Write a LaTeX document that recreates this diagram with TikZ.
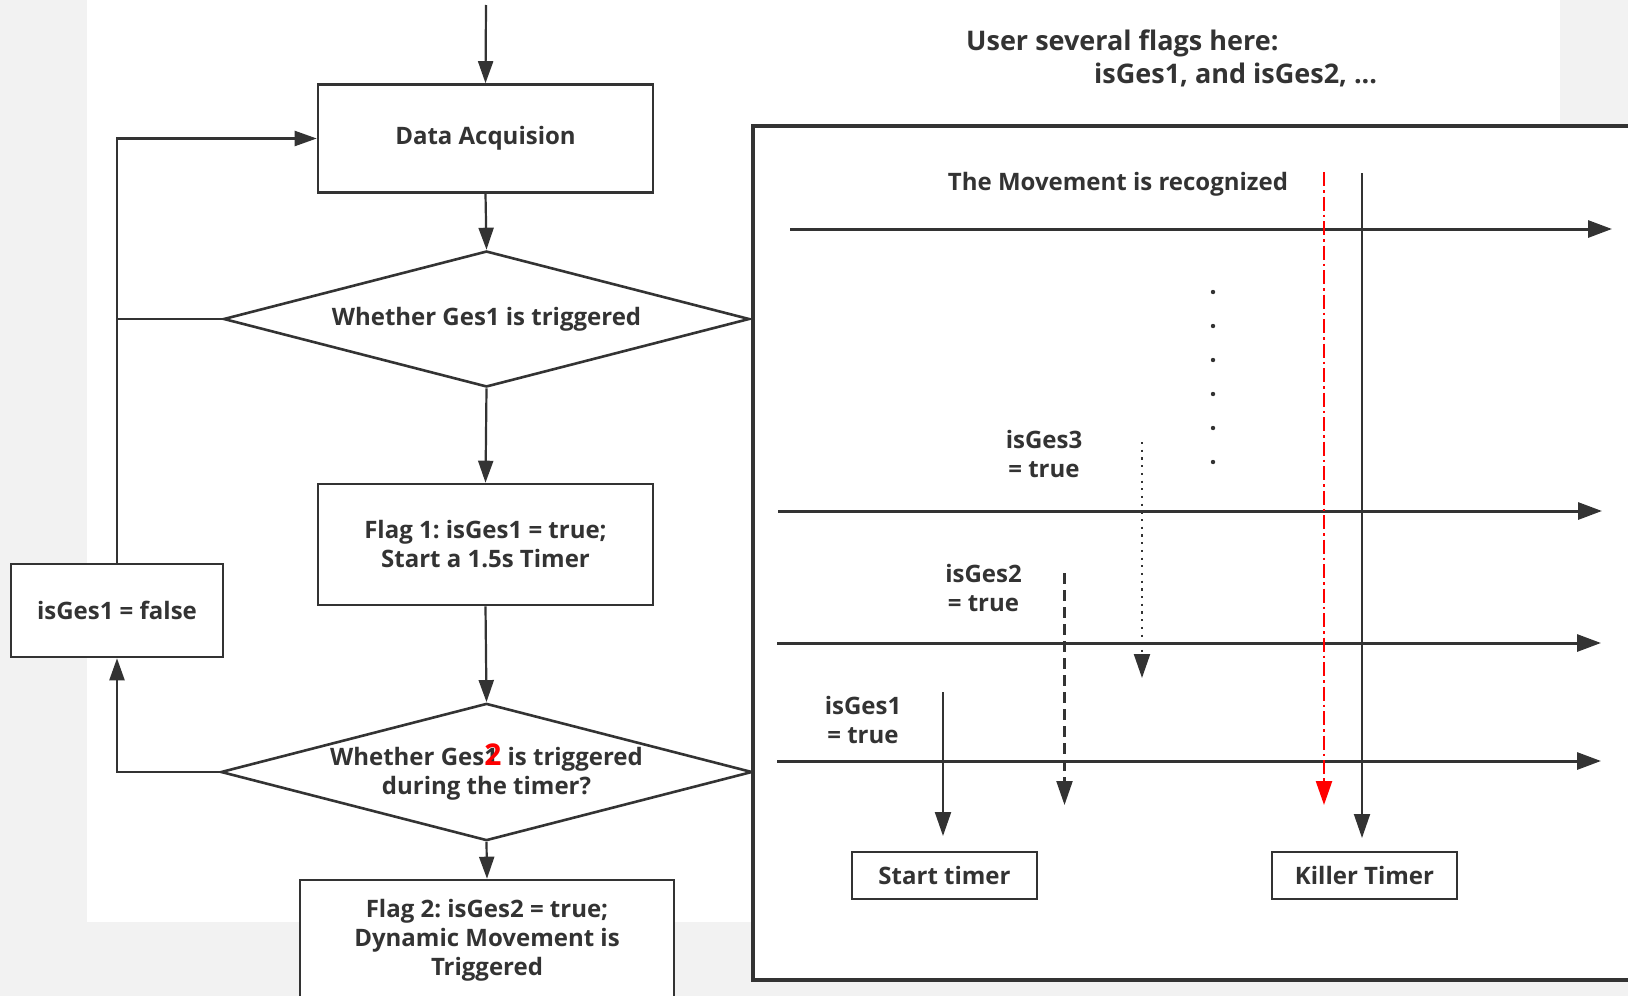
\documentclass[tikz,border=0pt]{standalone}
\usepackage{fontspec}
\setmainfont{Open Sans}
\frenchspacing
\usetikzlibrary{arrows.meta,shapes.geometric}
\definecolor{ink}{HTML}{333333}
\definecolor{bggray}{HTML}{F2F2F2}
\begin{document}
\begin{tikzpicture}[x=1pt,y=-1pt,
  every node/.style={text=ink,font=\bfseries\fontsize{24}{29}\selectfont},
  box/.style={draw=ink,line width=2.6pt,fill=white,inner sep=0pt,align=center},
  decision/.style={diamond,aspect=3.87,draw=ink,line width=2.6pt,fill=white,inner sep=0pt,
    minimum width=526pt,minimum height=136pt,align=center},
  arr/.style={draw=ink,line width=2.2pt,-{Triangle[length=22pt,width=15pt]}},
  link/.style={draw=ink,line width=2.6pt},
  axis/.style={draw=ink,line width=3pt,-{Triangle[length=24pt,width=17pt]}},
  tick/.style={line width=2.2pt,-{Triangle[length=24pt,width=16pt]}},
  label/.style={align=center,inner sep=0pt},
  note/.style={inner sep=0pt,anchor=west,font=\bfseries\fontsize{27}{32}\selectfont}]
\useasboundingbox (0,0) rectangle (1628,996);
\clip (0,0) rectangle (1628,996);
% page background
\fill[bggray] (0,0) rectangle (1628,996);
\fill[white] (87,0) rectangle (1560,922);

% ---------- flow chart ----------
\coordinate (in) at (486,5);
\node[box,minimum width=335pt,minimum height=108pt] (da) at (485.5,138.5) {Data Acquision};
\node[decision] (d1) at (486.5,319) {Whether Ges1 is triggered};
\node[box,minimum width=335pt,minimum height=121pt] (f1) at (485.5,544.5)
  {Flag 1: isGes1 = true;\\Start a 1.5s Timer};
\node[decision] (d2) at (486.5,772)
  {Whether Ges\rlap{1}\textcolor{red}{\fontsize{30}{29}\selectfont 2} is triggered\\during the timer?};
\node[box,minimum width=374pt,minimum height=120pt] (f2) at (487,940)
  {Flag 2: isGes2 = true;\\Dynamic Movement is\\Triggered};
\node[box,minimum width=212pt,minimum height=93pt] (nf) at (117,610.5) {isGes1 = false};

\draw[arr] (in) -- (da.north);
\draw[arr] (da.south) -- (d1.north);
\draw[arr] (d1.south) -- (f1.north);
\draw[arr] (f1.south) -- (d2.north);
\draw[arr] (d2.south) -- (f2.north);
\draw[arr] (nf.north) |- (da.west);
\draw[link] (d1.west) -- (d1.west -| nf.north);
\draw[arr] (d2.west) -| (nf.south);

% ---------- flag time lines ----------
\node[note] (note1) at (966,43) {User several flags here:};
\node[note] (note2) at (1094,75) {isGes1, and isGes2, ...};

\node[draw=ink,line width=4pt,fill=white,minimum width=950pt,minimum height=854pt,
  inner sep=0pt] (panel) at (1228,553) {};

\node[label] (rec) at (1118,184) {The Movement is recognized};

\coordinate (t1a) at (790,229);  \coordinate (t1b) at (1612,229);
\coordinate (t2a) at (778,511);  \coordinate (t2b) at (1602,511);
\coordinate (t3a) at (777,643);  \coordinate (t3b) at (1601,643);
\coordinate (t4a) at (777,761);  \coordinate (t4b) at (1601,761);
\draw[axis] (t1a) -- (t1b);
\draw[axis] (t2a) -- (t2b);
\draw[axis] (t3a) -- (t3b);
\draw[axis] (t4a) -- (t4b);

% the pending rows
\foreach \yy in {292,326,360,394,428,462}
  \fill[ink] (1213,\yy) circle (2.2pt);

\node[label] (g3) at (1044,454) {isGes3\\= true};
\node[label] (g2) at (983.5,588) {isGes2\\= true};
\node[label] (g1) at (863,719.5) {isGes1\\= true};

\node[box,line width=2.4pt,minimum width=185pt,minimum height=47pt] (st) at (944.5,875.5) {Start timer};
\node[box,line width=2.4pt,minimum width=185pt,minimum height=47pt] (kt) at (1364.5,875.5) {Killer Timer};

\coordinate (v1a) at (943,692);    \coordinate (v1b) at (943,836);
\coordinate (v2a) at (1064.5,573); \coordinate (v2b) at (1064.5,805);
\coordinate (v3a) at (1142,442);   \coordinate (v3b) at (1142,678);
\coordinate (vra) at (1324,172);   \coordinate (vrb) at (1324,805);
\coordinate (vka) at (1362,173);   \coordinate (vkb) at (1362,838);

\draw[tick,draw=ink] (v1a) -- (v1b);
\draw[tick,draw=ink,dash pattern=on 11pt off 6pt] (v2a) -- (v2b);
\draw[tick,draw=ink,dash pattern=on 2.2pt off 5.5pt] (v3a) -- (v3b);
\draw[tick,draw=red,line width=2.4pt,dash pattern=on 14pt off 4pt on 2.5pt off 4pt,
  -{Triangle[length=24pt,width=16pt,fill=red]}] (vra) -- (vrb);
\draw[tick,draw=ink,line width=2pt] (vka) -- (vkb);
\end{tikzpicture}
\end{document}
